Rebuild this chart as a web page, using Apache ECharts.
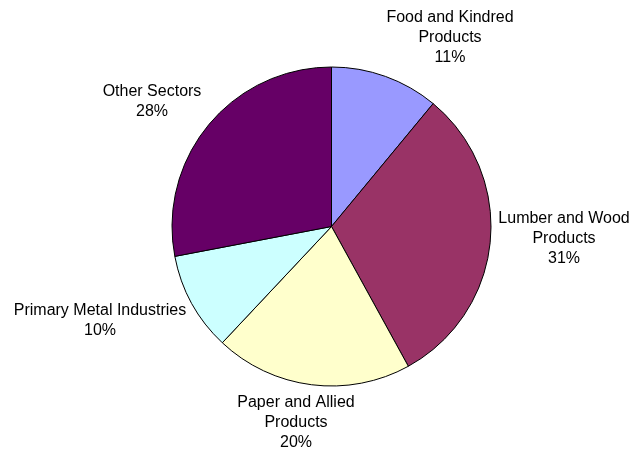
<!DOCTYPE html>
<html>
<head>
<meta charset="utf-8">
<style>
  html, body { margin: 0; padding: 0; background: #ffffff; }
  #chart { width: 633px; height: 454px; }
</style>
<script src="https://cdn.jsdelivr.net/npm/echarts@6/dist/echarts.min.js"></script>
</head>
<body>
<div id="chart"></div>
<script>
// Sectors, clockwise from 12 o'clock
const sectors = [
  'Food and Kindred\nProducts',
  'Lumber and Wood\nProducts',
  'Paper and Allied\nProducts',
  'Primary Metal Industries',
  'Other Sectors'
];
const shares = [11, 31, 20, 10, 28];
const sliceColors = ['#9999FF', '#993366', '#FFFFCC', '#CCFFFF', '#660066'];

// Label anchor points (text block centre) for each sector
const labelAnchors = [
  [450, 38],
  [564, 239],
  [296, 423],
  [100, 321],
  [152, 102]
];

const chart = echarts.init(document.getElementById('chart'), null, { renderer: 'canvas' });

chart.setOption({
  animation: false,
  backgroundColor: '#ffffff',
  series: [{
    type: 'pie',
    center: [331.5, 226.5],
    radius: [0, 159.5],
    startAngle: 90,
    clockwise: true,
    data: sectors.map((name, i) => ({
      name: name,
      value: shares[i],
      itemStyle: { color: sliceColors[i] }
    })),
    itemStyle: { borderColor: '#000000', borderWidth: 1 },
    label: {
      show: true,
      position: 'outside',
      formatter: '{b}\n{c}%',
      color: '#000000',
      fontFamily: 'Liberation Sans, Arial, sans-serif',
      fontSize: 16,
      lineHeight: 20,
      align: 'center',
      overflow: 'none',
      width: 300
    },
    labelLine: { show: false },
    labelLayout: function (params) {
      const p = labelAnchors[params.dataIndex];
      return { x: p[0], y: p[1], align: 'center', verticalAlign: 'middle' };
    },
    emphasis: { disabled: true }
  }]
});
</script>
</body>
</html>
